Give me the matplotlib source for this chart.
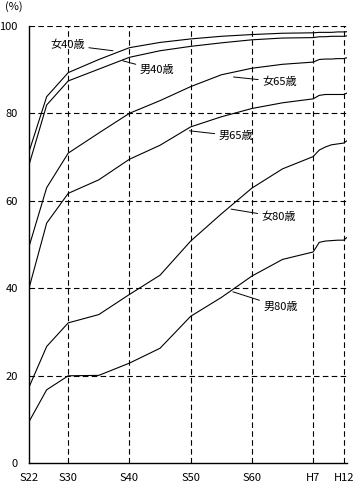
import numpy as np
import matplotlib
matplotlib.use('Agg')
import matplotlib.pyplot as plt

plt.rcParams['font.family'] = ['Noto Sans CJK JP', 'DejaVu Sans']

# survey years (S22 = 1947 ... H12 = 2000, H13 = 2001)
years = [1947, 1950, 1955, 1960, 1965, 1970, 1975, 1980, 1985, 1990,
         1995, 1996, 1997, 1998, 1999, 2000, 2001]

# survival rate to given age (%)
female_40 = [71.2, 83.8, 89.3, 92.3, 95.0, 96.2, 97.0, 97.6, 98.0, 98.3,
             98.4, 98.5, 98.5, 98.5, 98.6, 98.6, 98.7]
male_40 = [68.2, 81.9, 87.4, 90.1, 92.8, 94.3, 95.3, 96.1, 96.8, 97.2,
           97.3, 97.5, 97.5, 97.6, 97.6, 97.6, 97.8]
female_65 = [49.5, 63.0, 70.9, 75.5, 80.0, 82.9, 86.1, 88.8, 90.3, 91.2,
             91.7, 92.3, 92.4, 92.4, 92.5, 92.5, 92.9]
male_65 = [40.0, 54.9, 61.7, 64.8, 69.5, 72.7, 76.9, 79.2, 81.1, 82.4,
           83.3, 84.1, 84.3, 84.3, 84.3, 84.3, 84.9]
female_80 = [17.4, 26.7, 32.1, 34.0, 38.6, 43.0, 50.8, 57.0, 62.9, 67.3,
             70.1, 71.6, 72.3, 72.8, 73.0, 73.2, 74.2]
male_80 = [9.5, 16.8, 20.0, 20.1, 22.9, 26.3, 33.6, 37.9, 42.8, 46.6,
           48.3, 50.5, 50.8, 50.9, 51.0, 51.0, 52.2]

tick_years = [1947, 1955, 1965, 1975, 1985, 1995, 2000]
tick_labels = ['S22', 'S30', 'S40', 'S50', 'S60', 'H7', 'H12']

series = [
    (female_40, '女40歳', (1950.8, 95.6), (1962.3, 94.3)),
    (male_40, '男40歳', (1966.7, 89.9), (1963.9, 92.0)),
    (female_65, '女65歳', (1986.7, 87.2), (1982.0, 88.3)),
    (male_65, '男65歳', (1979.6, 74.8), (1974.8, 76.0)),
    (female_80, '女80歳', (1986.6, 56.3), (1981.6, 58.1)),
    (male_80, '男80歳', (1986.9, 35.7), (1981.9, 39.2)),
]

# the original axis squeezes the years before S30
knot_years = [1900, 1947, 1950, 1955, 2010]
knot_pos = [-235.0, 0.0, 17.7, 39.3, 39.3 + 55 * 6.133]


def forward(x):
    return np.interp(x, knot_years, knot_pos)


def inverse(p):
    return np.interp(p, knot_pos, knot_years)


fig = plt.figure(figsize=(3.57, 4.90), dpi=100)
ax = fig.add_axes([29 / 357, 26.7 / 490, 317.8 / 357, 437.5 / 490])
ax.set_xscale('function', functions=(forward, inverse))

for values, label, text_pos, point in series:
    ax.plot(years, values, color='black', lw=0.8)
    ax.annotate(label, xy=point, xytext=text_pos, fontsize=8,
                ha='left', va='center',
                arrowprops=dict(arrowstyle='-', color='black', lw=0.7,
                                shrinkA=1, shrinkB=0))

ax.set_xlim(1947, 2000.5)
ax.set_ylim(0, 100)
ax.set_xticks(tick_years)
ax.set_xticklabels(tick_labels)
ax.set_yticks([0, 20, 40, 60, 80, 100])
ax.tick_params(length=0, labelsize=8)
ax.tick_params(axis='x', pad=7)
ax.tick_params(axis='y', pad=8)

dash = (0, (5, 3))
for v in [20, 40, 60, 80, 100]:
    ax.axhline(v, color='black', lw=0.8, linestyle=dash, zorder=0)
for t in tick_years[1:]:
    ax.axvline(t, color='black', lw=0.8, linestyle=dash, zorder=0)

ax.spines['top'].set_visible(False)
ax.spines['right'].set_visible(False)
ax.spines['left'].set_linewidth(1.0)
ax.spines['bottom'].set_linewidth(1.0)

fig.text(5 / 357, 1 - 7 / 490, '(%)', fontsize=8, ha='left', va='center')

fig.savefig('out.png', dpi=100)
